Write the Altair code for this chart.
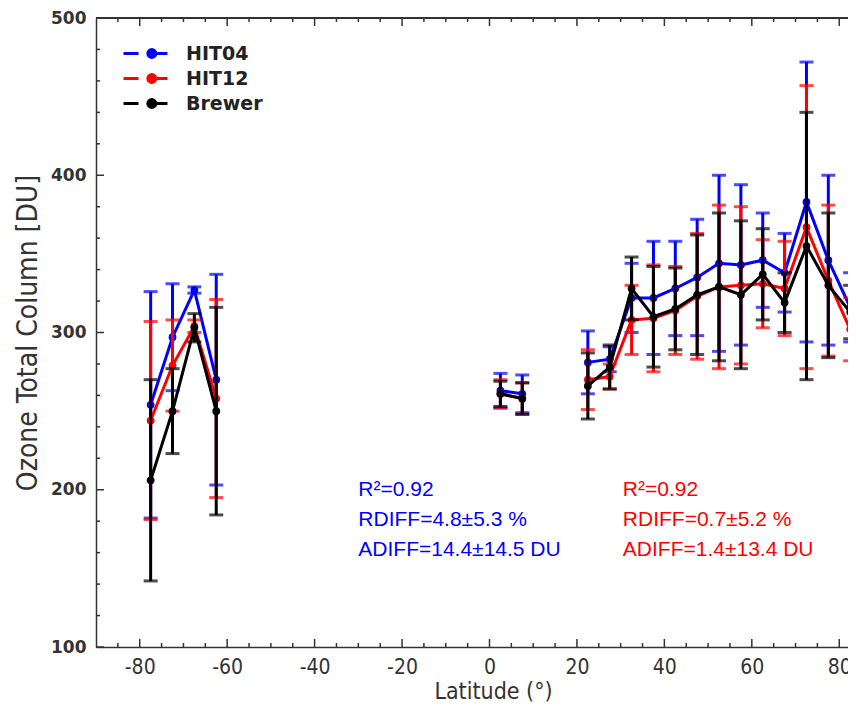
import altair as alt
import pandas as pd

# ---------------- data ----------------
lats = [-77.5, -72.5, -67.5, -62.5, 2.5, 7.5,
        22.5, 27.5, 32.5, 37.5, 42.5, 47.5, 52.5, 57.5, 62.5, 67.5, 72.5, 77.5, 82.5]
segment = [1, 1, 1, 1, 2, 2, 3, 3, 3, 3, 3, 3, 3, 3, 3, 3, 3, 3, 3]

hit04_mean = [254, 297, 327, 270, 263, 261, 281, 283, 322, 322, 328, 335, 344, 343, 346, 338, 383, 346, 316]
hit04_err = [72, 34, 2, 67, 11, 12, 20, 8, 22, 36, 30, 37, 56, 51, 30, 25, 89, 54, 22]
hit12_mean = [244, 279, 304, 258, 261, 258, 270, 272, 308, 309, 314, 323, 329, 330, 331, 328, 367, 333, 302]
hit12_err = [63, 29, 4, 63, 9, 10, 19, 8, 22, 34, 28, 40, 52, 50, 28, 30, 90, 48, 20]
brewer_mean = [206, 250, 303, 250, 261, 258, 266, 278, 328, 310, 315, 324, 329, 324, 337, 319, 355, 330, 313]
brewer_err = [64, 27, 9, 66, 8, 10, 21, 14, 20, 32, 26, 38, 47, 47, 29, 19, 85, 46, 17]

series_names = ["HIT04", "HIT12", "Brewer"]
series_colors = ["#0000ff", "#ff0000", "#000000"]

ann_text = ["R\u00b2=0.92", "RDIFF=4.8\u00b15.3 %", "ADIFF=14.4\u00b114.5 DU",
            "R\u00b2=0.92", "RDIFF=0.7\u00b15.2 %", "ADIFF=1.4\u00b113.4 DU"]
ann_color = ["#0000ff"] * 3 + ["#ff0000"] * 3
ann_lat = [-30, -30, -30, 30.5, 30.5, 30.5]
ann_val = [200, 181, 162, 200, 181, 162]

x_major = [-80, -60, -40, -20, 0, 20, 40, 60, 80]
x_minor = [v for v in range(-85, 85, 5) if v % 20 != 0]
y_major = [100, 200, 300, 400, 500]
y_minor = [v for v in range(120, 500, 20) if v % 100 != 0]

# ---------------- build tables ----------------
rows = []
for name, col, means, errs in [("HIT04", series_colors[0], hit04_mean, hit04_err),
                               ("HIT12", series_colors[1], hit12_mean, hit12_err),
                               ("Brewer", series_colors[2], brewer_mean, brewer_err)]:
    for la, sg, m, e in zip(lats, segment, means, errs):
        rows.append(dict(series=name, hex=col, lat=la, seg=sg, mean=m, lo=m - e, hi=m + e))
df = pd.DataFrame(rows)
ann = pd.DataFrame(dict(text=ann_text, hex=ann_color, lat=ann_lat, val=ann_val))

W, H = 752, 629
AXC = "#333333"
COND = "Liberation Sans Narrow, DejaVu Sans Condensed, Roboto Condensed, Roboto, sans-serif"

xs = alt.Scale(domain=[-90, 82], nice=False, zero=False)
ys = alt.Scale(domain=[100, 500], nice=False, zero=False)
xaxis = alt.Axis(values=x_major, ticks=False, grid=False, labelFont=COND, labelFontSize=21,
                 labelColor=AXC, labelPadding=9, labelExpr="'' + datum.value",
                 titleFont=COND, titleFontSize=23, titleX=397,
                 titleFontWeight="normal", titleColor=AXC, titlePadding=3,
                 domainColor=AXC, domainWidth=1.5, labelFlush=False)
yaxis = alt.Axis(values=y_major, ticks=False, grid=False, labelFont="DejaVu Sans",
                 labelFontWeight="bold", labelFontSize=17, labelColor=AXC, labelPadding=10,
                 titleFont=COND, titleFontSize=28, titleFontWeight="normal", titleColor=AXC,
                 titlePadding=8, domainColor=AXC, domainWidth=1.5)
XT = "Latitude (°)"
YT = "Ozone Total Column [DU]"

cscale = alt.Scale(domain=series_names, range=series_colors)
legend_path = ("M-2.93,0L-0.93,0M0.4,0L2.93,0"
               "M1.37,0A0.53,0.53,0,1,1,0.31,0A0.53,0.53,0,1,1,1.37,0Z")
legend = alt.Legend(title=None, orient="none", legendX=40, legendY=26,
                    symbolType=legend_path, symbolSize=225, symbolStrokeWidth=3,
                    labelFont="DejaVu Sans", labelFontWeight="bold", labelFontSize=19,
                    labelColor="#222222", labelOffset=31, rowPadding=4)

def X(field):
    return alt.X(field, type="quantitative", scale=xs, axis=xaxis, title=XT)

def Y(field):
    return alt.Y(field, type="quantitative", scale=ys, axis=yaxis, title=YT)

def C():
    return alt.Color("hex:N", scale=None)

layers = []
for i, s in enumerate(series_names):
    base = alt.Chart(df).transform_filter(alt.datum.series == s)
    layers.append(base.mark_rule(strokeWidth=3, clip=True).encode(
        x=X("lat"), y=Y("lo"), y2="hi:Q", color=C()))
    layers.append(base.mark_tick(orient="horizontal", size=14, thickness=3, clip=True).encode(
        x=X("lat"), y=Y("lo"), color=C()))
    layers.append(base.mark_tick(orient="horizontal", size=14, thickness=3, clip=True).encode(
        x=X("lat"), y=Y("hi"), color=C()))
    layers.append(base.mark_line(strokeWidth=3, clip=True).encode(
        x=X("lat"), y=Y("mean"), detail="seg:N", color=C()))
    if i == 0:
        layers.append(base.mark_point(filled=True, size=60, opacity=1, strokeWidth=0.01, clip=True).encode(
            x=X("lat"), y=Y("mean"),
            fill=alt.Fill("series:N", scale=cscale, legend=legend),
            stroke=alt.Stroke("series:N", scale=cscale, legend=legend)))
    else:
        layers.append(base.mark_point(filled=True, size=60, opacity=1, clip=True).encode(
            x=X("lat"), y=Y("mean"), color=C()))

# annotations
layers.append(alt.Chart(ann).mark_text(align="left", baseline="middle", font="Liberation Sans",
                                       fontSize=21).encode(
    x=X("lat"), y=Y("val"), text="text:N", color=C()))

# frame ticks (inward)
xmaj = pd.DataFrame(dict(t=x_major))
xmin = pd.DataFrame(dict(t=x_minor))
ymaj = pd.DataFrame(dict(t=y_major))
ymin = pd.DataFrame(dict(t=y_minor))
tk = dict(color=AXC, strokeWidth=1.5)
for d, L in [(xmaj, 8), (xmin, 4)]:
    layers.append(alt.Chart(d).mark_rule(**tk).encode(x=X("t"), y=alt.value(H), y2=alt.value(H - L)))
    layers.append(alt.Chart(d).mark_rule(**tk).encode(x=X("t"), y=alt.value(0), y2=alt.value(L)))
for d, L in [(ymaj, 8), (ymin, 4)]:
    layers.append(alt.Chart(d).mark_rule(**tk).encode(y=Y("t"), x=alt.value(0), x2=alt.value(L)))
# top border
layers.append(alt.Chart(xmaj).mark_rule(color=AXC, strokeWidth=1.5).encode(y=alt.value(0)))

chart = alt.layer(*layers).properties(
    width=W, height=H,
    autosize=alt.AutoSizeParams(type="none"),
    padding={"left": 88, "top": 10, "right": 0, "bottom": 55},
    background="white",
).configure_view(stroke=None)

chart.save("out.html", embed_options={"renderer": "svg", "actions": False})
